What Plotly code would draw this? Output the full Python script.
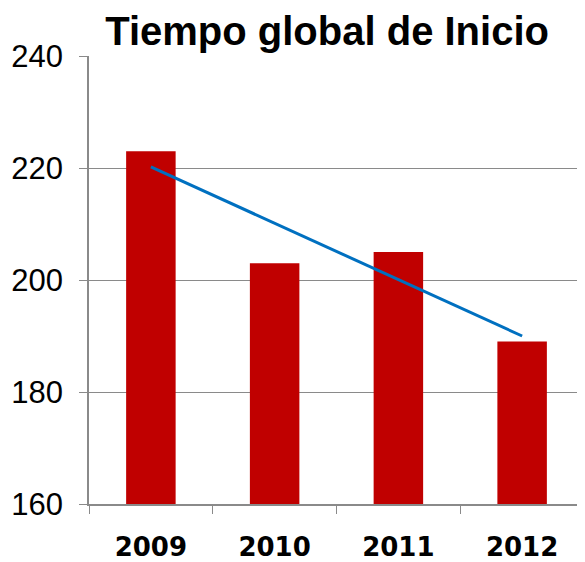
import plotly.graph_objects as go

years = ["2009", "2010", "2011", "2012"]
tiempo = [223, 203, 205, 189]
tendencia = [220.2, 210.1, 200.0, 190.0]
y_ticks = [160, 180, 200, 220, 240]

fig = go.Figure()
fig.add_trace(go.Bar(x=years, y=tiempo, marker=dict(color="#C00000", line=dict(width=0)),
                     width=0.4, showlegend=False))
fig.add_trace(go.Scatter(x=years, y=tendencia, mode="lines",
                         line=dict(color="#0070C0", width=3), showlegend=False))

fig.update_layout(
    width=577, height=554,
    margin=dict(l=81, r=1, t=48, b=58, autoexpand=False),
    paper_bgcolor="white", plot_bgcolor="white",
    font=dict(family="Liberation Sans, Arial, sans-serif", color="black"),
    title=dict(text="<b>Tiempo global de Inicio</b>", font=dict(size=40, color="black"),
               x=0.553, xanchor="center", y=0.983, yanchor="top", xref="container"),
    bargap=0.6,
)
fig.update_yaxes(range=[160, 240], tickvals=y_ticks, ticks="outside", ticklen=8,
                 tickcolor="#8a8a8a", showgrid=True, gridcolor="#8a8a8a", gridwidth=1,
                 showline=True, linecolor="#8a8a8a", linewidth=1.5, automargin=False,
                 tickfont=dict(size=31, color="black"), zeroline=False, ticklabelstandoff=10)
fig.update_xaxes(ticks="outside", ticklen=8, tickson="boundaries", tickcolor="#8a8a8a",
                 showline=True, linecolor="#8a8a8a", linewidth=1.5, automargin=False,
                 tickfont=dict(size=26, color="black", family="DejaVu Sans"),
                 tickprefix="<b>", ticksuffix="</b>", ticklabelstandoff=19,
                 range=[-0.5, 3.5])

fig.write_html("out.html")
